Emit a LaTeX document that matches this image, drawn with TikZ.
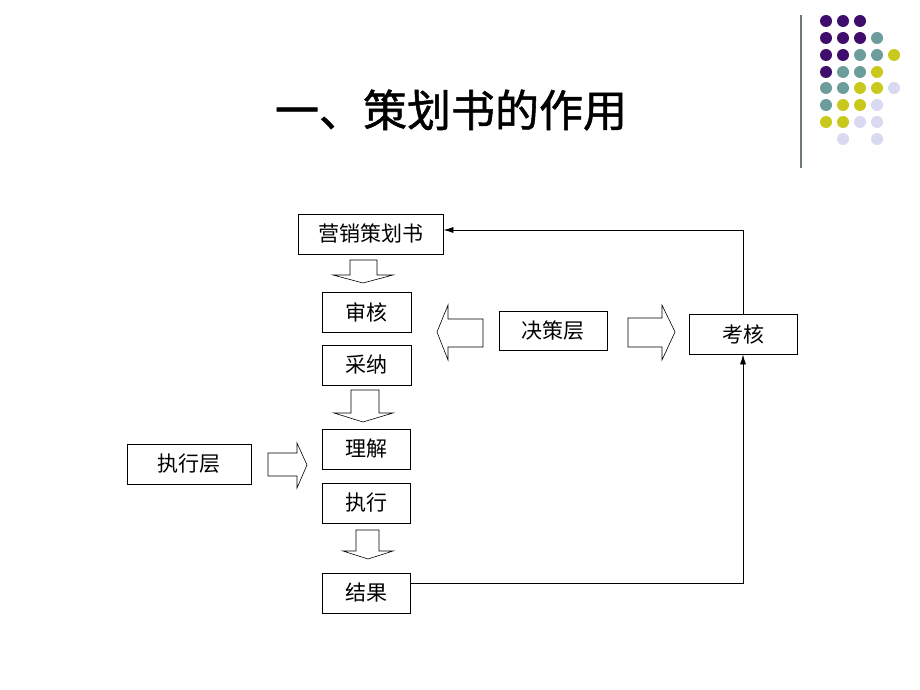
\documentclass[tikz,border=0pt]{standalone}
\usepackage{fontspec}
\newfontfamily\cjk{Noto Sans CJK SC}
\newfontfamily\cjktitle[FakeBold=1.2]{Noto Sans CJK SC}
\usetikzlibrary{arrows.meta}

\definecolor{dotpurple}{HTML}{3F0E6C}
\definecolor{dotteal}{HTML}{6C9C9C}
\definecolor{dotyellow}{HTML}{C9C81C}
\definecolor{dotlilac}{HTML}{D9D9F2}
\definecolor{rulegray}{HTML}{6E7A6E}

\begin{document}
\begin{tikzpicture}[x=1pt,y=-1pt,
	box/.style={draw, line width=0.8pt, inner sep=0pt, minimum height=40pt,
		font=\cjk\fontsize{21}{21}\selectfont},
	fat/.style={draw, line width=0.6pt, fill=white},
	link/.style={-{Latex[length=10pt,width=6pt]}, line width=0.8pt}]
	\useasboundingbox (0,0) rectangle (920,690);

	% title and corner decoration
	\node (title) at (451,110) {\cjktitle\fontsize{44}{44}\selectfont 一、策划书的作用};
	\draw[rulegray, line width=1.2pt] (801,15) -- (801,168);
	\foreach \c/\y/\cols in {dotpurple/21/{0,1,2}, dotpurple/38/{0,1,2}, dotteal/38/{3},
		dotpurple/55/{0,1}, dotteal/55/{2,3}, dotyellow/55/{4},
		dotpurple/72/{0}, dotteal/72/{1,2}, dotyellow/72/{3},
		dotteal/88/{0,1}, dotyellow/88/{2,3}, dotlilac/88/{4},
		dotteal/105/{0}, dotyellow/105/{1,2}, dotlilac/105/{3},
		dotyellow/122/{0,1}, dotlilac/122/{2,3},
		dotlilac/139/{1,3}}
		\foreach \i in \cols \fill[\c] (826+17*\i,\y) circle (6pt);

	% boxes
	\node[box, minimum width=145pt] (yingxiao) at (370.5,234) {营销策划书};
	\node[box, minimum width=89pt] (shenhe) at (366.5,312) {审核};
	\node[box, minimum width=89pt] (caina) at (366.5,365) {采纳};
	\node[box, minimum width=88pt] (lijie) at (366,449) {理解};
	\node[box, minimum width=88pt] (zhixing) at (366,503) {执行};
	\node[box, minimum width=88pt] (jieguo) at (366,593) {结果};
	\node[box, minimum width=108pt, minimum height=39pt] (juece) at (553,330.5) {决策层};
	\node[box, minimum width=108pt] (kaohe) at (743,334) {考核};
	\node[box, minimum width=124pt] (zhixingceng) at (189,464) {执行层};

	% hollow arrows
	\draw[fat] (350,260) -- (377,260) -- (377,275) -- (393,275) -- (363,283) -- (333,275) -- (350,275) -- cycle;
	\draw[fat] (351,390) -- (379,390) -- (379,413) -- (393,413) -- (363,422) -- (334,413) -- (351,413) -- cycle;
	\draw[fat] (356,530) -- (379,530) -- (379,551) -- (393,551) -- (368,559) -- (343,551) -- (356,551) -- cycle;
	\draw[fat] (483,319) -- (483,347) -- (448,347) -- (448,360) -- (437,332) -- (448,305) -- (448,319) -- cycle;
	\draw[fat] (628,318) -- (662,318) -- (662,305) -- (675,332) -- (662,360) -- (662,347) -- (628,347) -- cycle;
	\draw[fat] (268,453) -- (297,453) -- (297,443) -- (307,465) -- (297,488) -- (297,476) -- (268,476) -- cycle;

	% feedback lines
	\draw[link] (kaohe.north) |- ([yshift=4pt]yingxiao.east);
	\draw[link] ([yshift=10pt]jieguo.east) -| (kaohe.south);
\end{tikzpicture}
\end{document}
